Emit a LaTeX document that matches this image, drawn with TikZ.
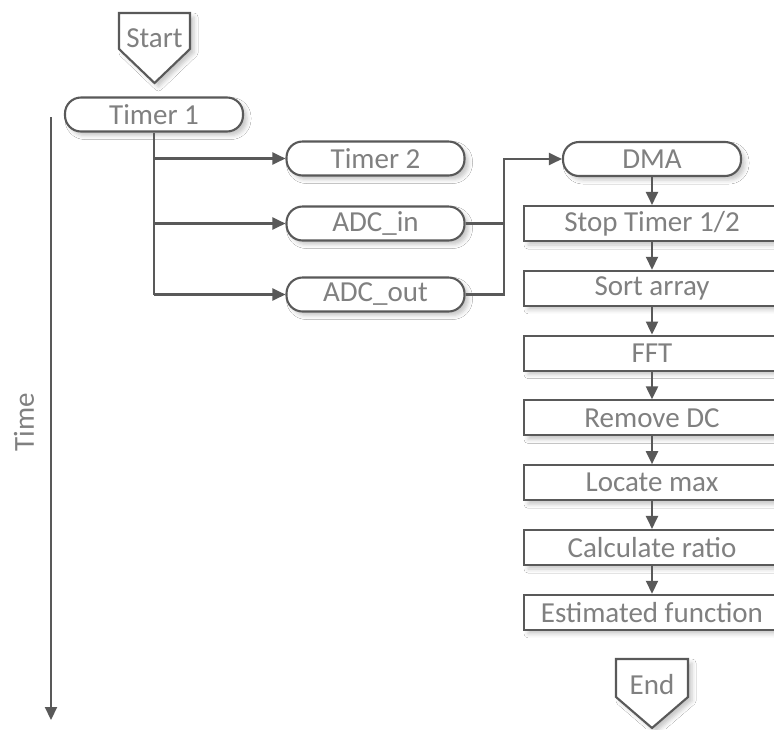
\documentclass[tikz,border=0pt]{standalone}
\usepackage{fontspec}
\setmainfont{Carlito}
\usetikzlibrary{arrows.meta,shadows.blur}
\definecolor{linec}{HTML}{595959}
\definecolor{textc}{HTML}{808080}
\tikzset{
  lbl/.style={text=textc, font=\fontsize{29}{30}\selectfont, inner sep=0pt},
  sh/.style={blur shadow={shadow xshift=4pt, shadow yshift=-4pt, shadow blur radius=4pt, shadow opacity=22}},
  term/.style={lbl, draw=linec, line width=2.1pt, rounded corners=16pt, minimum width=178pt, minimum height=34pt, fill=white, sh},
  proc/.style={lbl, draw=linec, line width=2.1pt, rectangle, minimum width=256pt, minimum height=35pt, fill=white, sh},
  conn/.style={draw=linec, line width=2.1pt},
  arr/.style={conn, -{Triangle[length=13pt,width=12pt]}},
  pent/.style={draw=linec, line width=2.1pt, fill=white, sh}
}
\begin{document}
\begin{tikzpicture}[x=1pt,y=1pt]
\clip (0,0) rectangle (774,-729);
\fill[white] (0,0) rectangle (774,-729);
% Start connector
\path[pent] (119,-13) -- (190,-13) -- (190,-49) -- (154.5,-83) -- (119,-49) -- cycle;
\node[lbl] (start) at (154.5,-38) {Start};
% End connector
\path[pent] (616,-659) -- (688,-659) -- (688,-697) -- (652,-728) -- (616,-697) -- cycle;
\node[lbl] (end) at (652,-685) {End};
% terminals
\node[term] (t1) at (154,-114.5) {Timer 1};
\node[term] (t2) at (375.5,-158.5) {Timer 2};
\node[term] (adcin) at (375.5,-223.5) {ADC\_in};
\node[term] (adcout) at (375.5,-294.5) {ADC\_out};
\node[term] (dma) at (652,-159) {DMA};
% process boxes
\node[proc] (b1) at (652,-223.5) {Stop Timer 1/2};
\node[proc] (b2) at (652,-288.3) {Sort array};
\node[proc] (b3) at (652,-353.1) {FFT};
\node[proc] (b4) at (652,-417.9) {Remove DC};
\node[proc] (b5) at (652,-482.7) {Locate max};
\node[proc] (b6) at (652,-547.5) {Calculate ratio};
\node[proc] (b7) at (652,-612.3) {Estimated function};
% time axis
\coordinate (ta) at (51,-117);
\coordinate (tb) at (51,-720);
\draw[arr] (ta) -- (tb);
\node[lbl, rotate=90] (time) at (24,-422) {Time};
% branches from Timer 1
\draw[conn] (t1.south) -- (t1.south |- adcout.west);
\draw[arr] (t1.south |- t2.west) -- (t2.west);
\draw[arr] (t1.south |- adcin.west) -- (adcin.west);
\draw[arr] (t1.south |- adcout.west) -- (adcout.west);
% merge to DMA
\coordinate (jx) at (504,0);
\draw[conn] (adcin.east) -- (adcin.east -| jx);
\draw[arr] (adcout.east) -- (adcout.east -| jx) |- (dma.west);
% chain
\draw[arr] (dma.south) -- (b1.north);
\draw[arr] (b1.south) -- (b2.north);
\draw[arr] (b2.south) -- (b3.north);
\draw[arr] (b3.south) -- (b4.north);
\draw[arr] (b4.south) -- (b5.north);
\draw[arr] (b5.south) -- (b6.north);
\draw[arr] (b6.south) -- (b7.north);
\end{tikzpicture}
\end{document}
